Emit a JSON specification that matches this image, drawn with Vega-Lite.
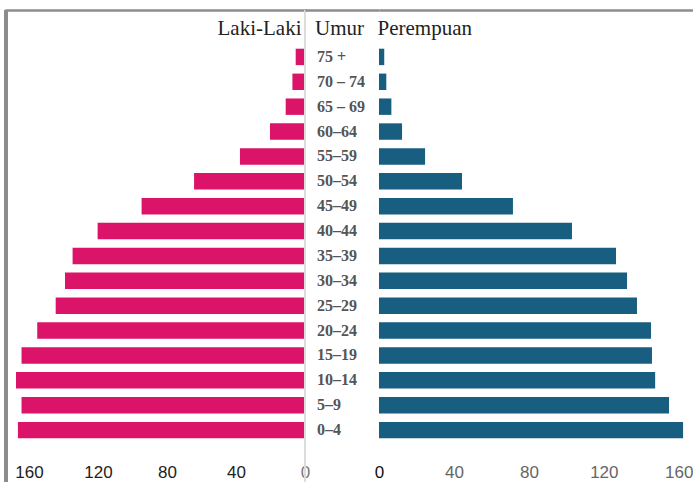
{
  "$schema": "https://vega.github.io/schema/vega-lite/v6.json",
  "padding": {"left": 4, "top": 8, "right": 0, "bottom": 0},
  "background": "white",
  "datasets": {
    "pop": [
      {"age": "75 +", "laki": 5.4, "perempuan": 2.8},
      {"age": "70 – 74", "laki": 7.3, "perempuan": 3.9},
      {"age": "65 – 69", "laki": 11.2, "perempuan": 6.6},
      {"age": "60–64", "laki": 20.3, "perempuan": 12.3},
      {"age": "55–59", "laki": 37.7, "perempuan": 24.6},
      {"age": "50–54", "laki": 64.3, "perempuan": 44.3},
      {"age": "45–49", "laki": 94.7, "perempuan": 71.5},
      {"age": "40–44", "laki": 120.2, "perempuan": 103},
      {"age": "35–39", "laki": 134.7, "perempuan": 126.5},
      {"age": "30–34", "laki": 139.1, "perempuan": 132.4},
      {"age": "25–29", "laki": 144.5, "perempuan": 137.7},
      {"age": "20–24", "laki": 155.2, "perempuan": 145.2},
      {"age": "15–19", "laki": 164.3, "perempuan": 145.7},
      {"age": "10–14", "laki": 167.5, "perempuan": 147.4},
      {"age": "5–9", "laki": 164.3, "perempuan": 154.8},
      {"age": "0–4", "laki": 166.4, "perempuan": 162.3}
    ]
  },
  "data": {"name": "pop"},
  "spacing": 0,
  "bounds": "flush",
  "config": {
    "view": {"stroke": null},
    "axis": {
      "titleFont": "Liberation Serif",
      "titleFontSize": 21,
      "titleFontWeight": "normal",
      "titleColor": "#222",
      "labelFont": "Liberation Sans, Arial, sans-serif",
      "labelFontSize": 17
    }
  },
  "hconcat": [
    {
      "width": 299,
      "height": 473,
      "layer": [
        {
          "mark": {"type": "bar", "color": "#DC1469"},
          "encoding": {
            "y": {
              "field": "age", "type": "nominal", "sort": null,
              "scale": {"type": "band", "range": [38.7, 428.3], "paddingInner": 0.34, "paddingOuter": 0},
              "axis": null
            },
            "x": {
              "field": "laki", "type": "quantitative",
              "scale": {"domain": [0, 173.3], "reverse": true, "nice": false, "zero": true},
              "axis": {
                "orient": "bottom", "offset": -8, "domain": false, "ticks": false, "tickSize": 0,
                "labelPadding": 2, "labelBaseline": "alphabetic", "labelFlush": false, "labelOverlap": false, "labelBound": false,
                "values": [0, 40, 80, 120, 160], "title": null, "grid": false,
                "labelColor": {"condition": {"test": "datum.value === 0", "value": "#777"}, "value": "#222"}
              }
            }
          }
        },
        {
          "mark": {"type": "rule", "color": "#dcdcdc", "strokeWidth": 1},
          "encoding": {
            "x": {
              "datum": 0, "type": "quantitative",
              "axis": {
                "orient": "top", "domain": true, "domainColor": "#8c8c8c", "domainWidth": 2.5, "domainCap": "square",
                "ticks": false, "labels": false, "grid": false,
                "title": "Laki-Laki", "titleX": 295, "titleY": 24, "titleAlign": "right", "titleBaseline": "alphabetic", "titleAngle": 0
              }
            }
          }
        },
        {
          "mark": {"type": "rule", "color": "#8c8c8c", "strokeWidth": 2.5},
          "encoding": {
            "x": {"datum": 173.3, "type": "quantitative", "axis": null}
          }
        }
      ],
      "resolve": {"axis": {"x": "independent"}}
    },
    {
      "width": 74,
      "height": 473,
      "mark": {"type": "text", "align": "left", "baseline": "middle", "dx": 12, "font": "Liberation Serif", "fontWeight": "bold", "fontSize": 16, "color": "#555"},
      "encoding": {
        "y": {
          "field": "age", "type": "nominal", "sort": null,
          "scale": {"type": "band", "range": [38.7, 428.3], "paddingInner": 0.34, "paddingOuter": 0},
          "axis": null
        },
        "x": {
          "datum": 0, "type": "quantitative",
          "scale": {"domain": [0, 1], "nice": false},
          "axis": {
            "orient": "top", "domain": true, "domainColor": "#8c8c8c", "domainWidth": 2.5,
            "ticks": false, "labels": false, "grid": false,
            "title": "Umur", "titleX": 34, "titleY": 24, "titleAlign": "center", "titleBaseline": "alphabetic", "titleAngle": 0
          }
        },
        "text": {"field": "age"}
      }
    },
    {
      "width": 314,
      "height": 473,
      "layer": [
        {
          "mark": {"type": "rule", "color": "white", "opacity": 0, "strokeWidth": 1},
          "encoding": {
            "x": {
              "datum": 0, "type": "quantitative",
              "axis": {
                "orient": "top", "domain": true, "domainColor": "#8c8c8c", "domainWidth": 2.5,
                "ticks": false, "labels": false, "grid": false,
                "title": "Perempuan", "titleX": -2, "titleY": 24, "titleAlign": "left", "titleBaseline": "alphabetic", "titleAngle": 0
              }
            }
          }
        },
        {
          "mark": {"type": "bar", "color": "#185E80"},
          "encoding": {
            "y": {
              "field": "age", "type": "nominal", "sort": null,
              "scale": {"type": "band", "range": [38.7, 428.3], "paddingInner": 0.34, "paddingOuter": 0},
              "axis": null
            },
            "x": {
              "field": "perempuan", "type": "quantitative",
              "scale": {"domain": [0, 167.6], "nice": false, "zero": true},
              "axis": {
                "orient": "bottom", "offset": -8, "domain": false, "ticks": false, "tickSize": 0,
                "labelPadding": 2, "labelBaseline": "alphabetic", "labelFlush": false, "labelOverlap": false, "labelBound": false,
                "values": [0, 40, 80, 120, 160], "grid": false, "title": null,
                "labelColor": {"condition": {"test": "datum.value === 0", "value": "#111"}, "value": "#666"}
              }
            }
          }
        }
      ],
      "resolve": {"axis": {"x": "independent"}}
    }
  ]
}
